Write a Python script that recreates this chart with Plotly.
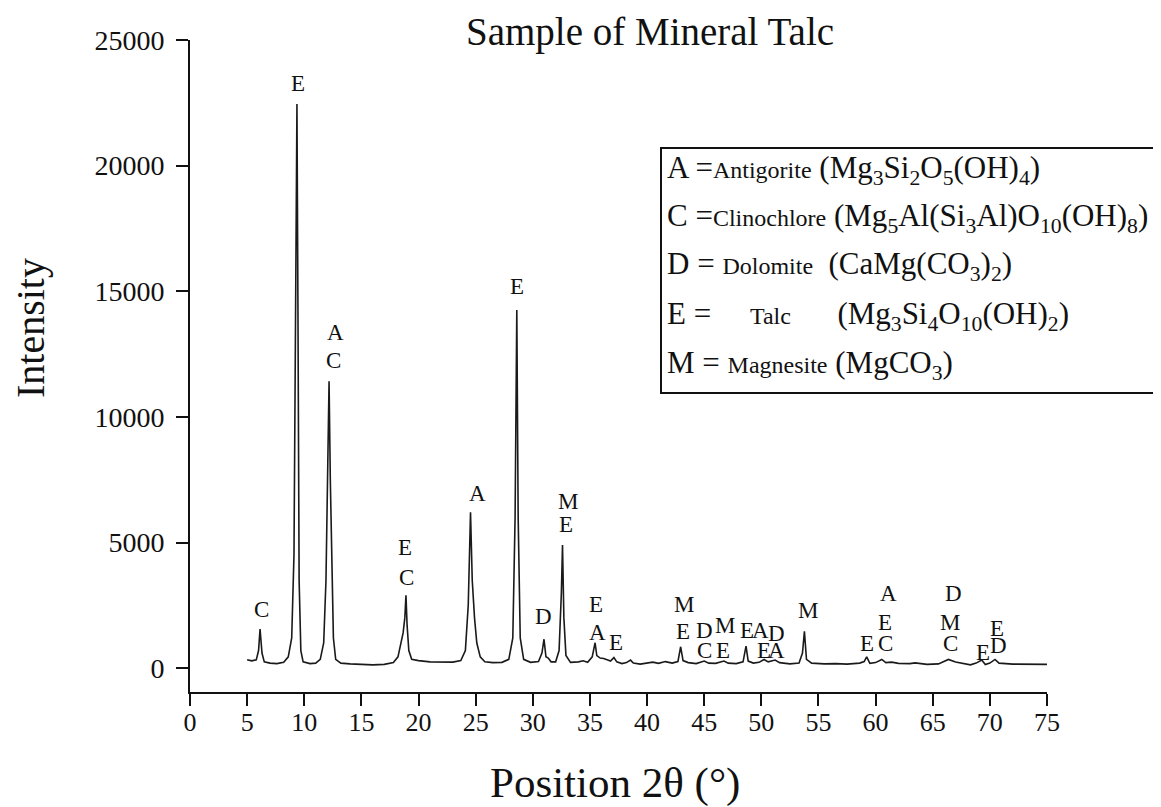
import plotly.graph_objects as go

# ---- XRD pattern (2theta, intensity) ----
two_theta = [5.0, 5.4, 5.8, 6.0, 6.13, 6.3, 6.5, 7.0, 7.6, 8.2, 8.6, 8.9, 9.1, 9.25, 9.36, 9.45, 9.55, 9.7, 9.9,
             10.5, 11.0, 11.4, 11.7, 11.9, 12.05, 12.17, 12.28, 12.4, 12.55, 12.75, 13.2, 14.0, 15.0, 16.0, 17.0,
             17.8, 18.2, 18.5, 18.65, 18.8, 18.9, 19.0, 19.15, 19.4, 20.0, 21.0, 22.0, 23.0, 23.7, 24.1, 24.35,
             24.55, 24.7, 24.9, 25.1, 25.4, 25.8, 26.5, 27.3, 27.9, 28.25, 28.45, 28.6, 28.72, 28.9, 29.2, 29.8,
             30.5, 30.8, 30.98, 31.15, 31.35, 31.6, 32.0, 32.3, 32.5, 32.6, 32.72, 32.9, 33.3, 34.0, 34.4, 34.8,
             35.2, 35.45, 35.6, 35.9, 36.2, 36.5, 36.8, 37.1, 37.35, 37.8, 38.2, 38.55, 38.8, 39.4, 40.0, 40.5,
             41.0, 41.6, 42.2, 42.7, 42.94, 43.15, 43.6, 44.3, 45.0, 45.4, 46.0, 46.73, 47.1, 47.8, 48.4, 48.66,
             48.85, 49.3, 49.8, 50.24, 50.6, 51.2, 51.6, 52.5, 53.3, 53.6, 53.77, 53.95, 54.4, 55.5, 56.5, 57.5,
             58.6, 59.0, 59.22, 59.5, 60.0, 60.54, 60.9, 61.4, 62.0, 63.0, 63.45, 64.5, 65.5, 66.37, 67.0, 67.4,
             68.3, 68.8, 69.29, 69.6, 70.0, 70.45, 70.8, 72.0, 73.5, 75.0]
intensity = [330, 290, 330, 700, 1560, 600, 250, 200, 180, 230, 450, 1200, 4500, 14000, 22450, 14000, 3500, 700, 250,
             180, 200, 350, 1000, 3500, 8000, 11420, 7500, 4000, 1200, 350, 200, 170, 140, 130, 150,
             220, 450, 1100, 1400, 2000, 2900, 1700, 700, 350, 300, 250, 230, 240, 300, 700, 2500,
             6200, 3500, 2000, 1000, 450, 250, 220, 230, 350, 1200, 6000, 14250, 6000, 1200, 350, 230,
             260, 600, 1150, 450, 400, 250, 250, 700, 3000, 4900, 2000, 500, 230, 250, 290, 230,
             450, 1010, 500, 400, 380, 330, 280, 420, 250, 180, 220, 320, 200, 160, 200, 240,
             190, 260, 200, 260, 850, 300, 220, 180, 280, 200, 190, 280, 200, 180, 250, 875,
             280, 200, 230, 345, 250, 320, 220, 170, 200, 600, 1470, 350, 200, 170, 180, 160,
             200, 260, 450, 190, 220, 345, 220, 240, 190, 180, 210, 150, 170, 345, 240, 200,
             130, 200, 320, 140, 200, 345, 200, 160, 150, 150]

# ---- phase labels above peaks ----
label_text = ["C", "E", "A", "C", "E", "C", "A", "E", "D", "M", "E", "E", "A", "E",
              "M", "E", "D", "C", "M", "E", "E", "A", "D", "E", "A", "M",
              "E", "C", "E", "A", "D", "M", "C", "E", "E", "D"]
label_x = [6.30, 9.45, 12.69, 12.52, 18.82, 18.99, 25.12, 28.62, 30.90, 33.08, 32.91, 35.53, 35.62, 37.28,
           43.24, 43.15, 44.99, 44.99, 46.82, 46.65, 48.75, 49.89, 51.37, 50.24, 51.37, 54.09,
           59.25, 60.83, 60.83, 61.09, 66.78, 66.52, 66.52, 69.40, 70.63, 70.72]
label_y = [2350, 23250, 13375, 12260, 4815, 3620, 6965, 15170, 2070, 6650, 5730, 2550, 1430, 1035,
           2550, 1470, 1510, 715, 1710, 715, 1510, 1510, 1390, 715, 715, 2310,
           995, 995, 1830, 2985, 2985, 1830, 995, 637, 1590, 915]

x_ticks = list(range(0, 80, 5))
y_ticks = [0, 5000, 10000, 15000, 20000, 25000]
y_tick_text = ["0", "5000", "10000", "15000", "20000", "25000"]

legend_lines = [
    "A =<span style='font-size:24px'>Antigorite</span> (Mg<sub>3</sub>Si<sub>2</sub>O<sub>5</sub>(OH)<sub>4</sub>)",
    "C =<span style='font-size:24px'>Clinochlore</span> (Mg<sub>5</sub>Al(Si<sub>3</sub>Al)O<sub>10</sub>(OH)<sub>8</sub>)",
    "D = <span style='font-size:24px'>Dolomite</span>  (CaMg(CO<sub>3</sub>)<sub>2</sub>)",
    "E =     <span style='font-size:24px'>Talc</span>      (Mg<sub>3</sub>Si<sub>4</sub>O<sub>10</sub>(OH)<sub>2</sub>)",
    "M = <span style='font-size:24px'>Magnesite</span> (MgCO<sub>3</sub>)",
]

SERIF = "Liberation Serif, Times New Roman, serif"

# page body has an 8px margin: figure is drawn 8px smaller and positions are shifted
OFF = 8
W, H = 1161 - OFF, 807 - OFF
L, R, T, B = 190 - OFF, 114, 40 - OFF, 115
pw, ph = W - L - R, H - T - B


def px(xpix):
    return (xpix - OFF - L) / pw


def py(ypix):
    return (H - B - (ypix - OFF)) / ph


fig = go.Figure()
fig.add_trace(go.Scatter(x=two_theta, y=intensity, mode="lines",
                         line=dict(color="#1a1a1a", width=1.6), hoverinfo="skip", showlegend=False))

annotations = []
for t, xv, yv in zip(label_text, label_x, label_y):
    annotations.append(dict(text=t, x=xv, y=yv, xref="x", yref="y", showarrow=False,
                            xanchor="center", yanchor="middle",
                            font=dict(family=SERIF, size=23, color="#111")))

annotations += [
    dict(text="Sample of Mineral Talc", x=px(650), y=py(32), xref="paper", yref="paper",
         showarrow=False, xanchor="center", yanchor="middle", font=dict(family=SERIF, size=39, color="#111")),
    dict(text="Intensity", x=px(30), y=py(328), xref="paper", yref="paper", textangle=-90,
         showarrow=False, xanchor="center", yanchor="middle", font=dict(family=SERIF, size=40, color="#111")),
    dict(text="Position 2θ (°)", x=px(615), y=py(783), xref="paper", yref="paper",
         showarrow=False, xanchor="center", yanchor="middle", font=dict(family=SERIF, size=43, color="#111")),
]
line_y = [170, 218, 266, 316, 365]
for txt, yy in zip(legend_lines, line_y):
    annotations.append(dict(text=txt, x=px(665), y=py(yy), xref="paper", yref="paper", showarrow=False,
                            xanchor="left", yanchor="middle", align="left",
                            font=dict(family=SERIF, size=31, color="#111")))

fig.update_layout(
    width=W, height=H,
    margin=dict(l=L, r=R, t=T, b=B, autoexpand=False),
    paper_bgcolor="white", plot_bgcolor="white",
    annotations=annotations,
    shapes=[dict(type="rect", xref="paper", yref="paper", x0=px(661), x1=px(1160), y0=py(393), y1=py(148),
                 line=dict(color="#111", width=2), fillcolor="rgba(0,0,0,0)")],
    xaxis=dict(range=[0, 75], tickvals=x_ticks, showgrid=False, zeroline=False, showline=True,
               linecolor="#111", linewidth=2, ticks="outside", ticklen=12, tickwidth=1.5, tickcolor="#111",
               ticklabelstandoff=-6,
               tickfont=dict(family=SERIF, size=26, color="#111")),
    yaxis=dict(range=[-950, 25000], tickvals=y_ticks, ticktext=y_tick_text, showgrid=False, zeroline=False,
               showline=True, linecolor="#111", linewidth=2, ticks="outside", ticklen=12, tickwidth=1.5,
               ticklabelstandoff=6,
               tickcolor="#111", tickfont=dict(family=SERIF, size=28, color="#111")),
)
fig.write_html("out.html")
